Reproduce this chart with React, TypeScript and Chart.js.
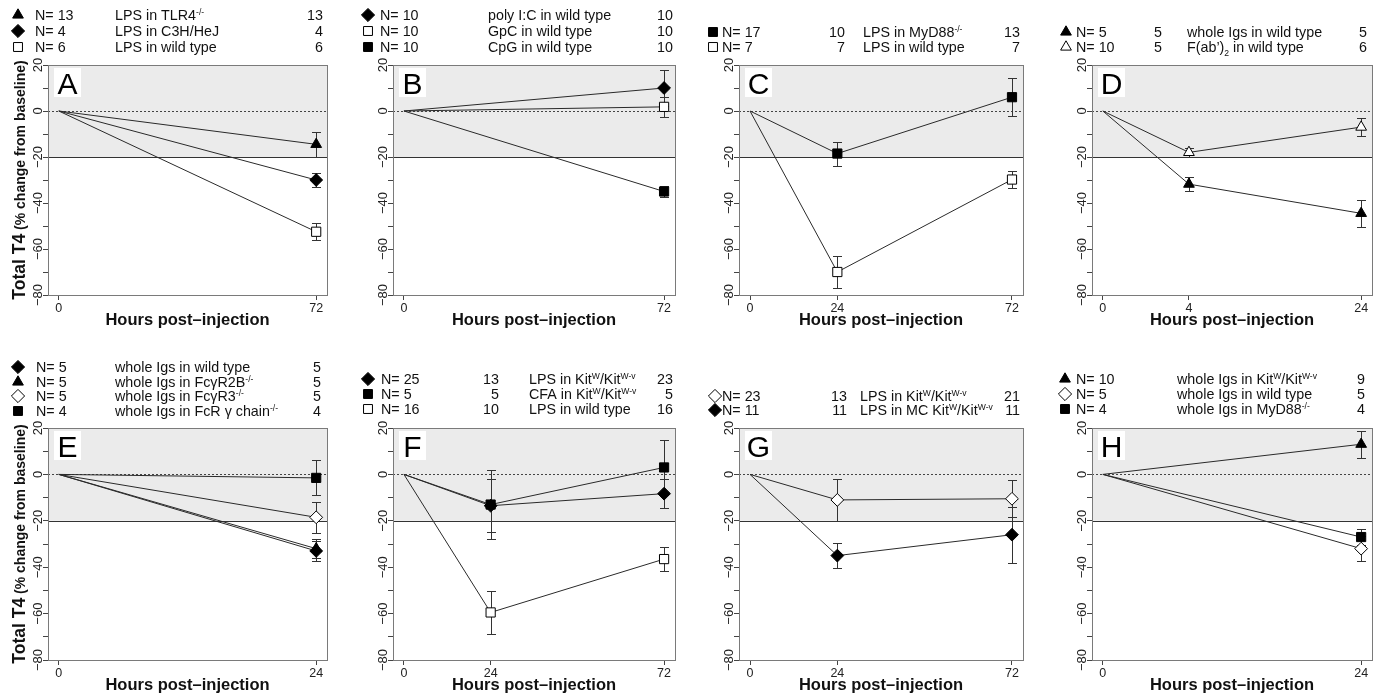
import React, { useEffect, useRef } from 'react';
import { Chart, registerables } from 'chart.js';

Chart.register(...registerables);

// ---------------- data ----------------
// Panel A
const A_hours = [0, 72];
const A_tlr4 = [0, -14.5];
const A_tlr4_err = [0, 5.3];
const A_c3h = [0, -30];
const A_c3h_err = [0, 3.2];
const A_wt = [0, -52.5];
const A_wt_err = [0, 3.8];

// Panel B
const B_hours = [0, 72];
const B_polyIC = [0, 10];
const B_polyIC_err = [0, 8];
const B_gpc = [0, 1.8];
const B_gpc_err = [0, 4.3];
const B_cpg = [0, -35];
const B_cpg_err = [0, 2.2];

// Panel C
const C_hours = [0, 24, 72];
const C_myd88 = [0, -18.5, 6];
const C_myd88_err = [0, 5.2, 8.2];
const C_wt = [0, -70, -29.8];
const C_wt_err = [0, 6.8, 3.8];

// Panel D (axis drawn with 0, 4, 24 placed like 0, 24, 72)
const D_hourLabels = ['0', '4', '24'];
const D_axisPos = [0, 24, 72];
const D_whole = [0, -31.8, -44.5];
const D_whole_err = [0, 3, 6];
const D_fab = [0, -18, -7];
const D_fab_err = [0, 1.8, 4];

// Panel E
const E_hours = [0, 24];
const E_wt = [0, -33];
const E_wt_err = [0, 4.5];
const E_r2b = [0, -32];
const E_r2b_err = [0, 4];
const E_r3 = [0, -18.5];
const E_r3_err = [0, 6.7];
const E_gamma = [0, -1.5];
const E_gamma_err = [0, 7.5];

// Panel F
const F_hours = [0, 24, 72];
const F_lpsKit = [0, -13.5, -8.3];
const F_lpsKit_err = [0, 11.5, 6.3];
const F_cfaKit = [0, -13, 3];
const F_cfaKit_err = [0, 15, 12];
const F_wt = [0, -59.5, -36.5];
const F_wt_err = [0, 9.3, 5.2];

// Panel G
const G_hours = [0, 24, 72];
const G_kit = [0, -11, -10.5];
const G_kit_err = [0, 9, 8];
const G_mcKit = [0, -35, -26];
const G_mcKit_err = [0, 5.5, 12];

// Panel H
const H_hours = [0, 24];
const H_kit = [0, 13];
const H_kit_err = [0, 5.8];
const H_wt = [0, -32];
const H_wt_err = [0, 5.5];
const H_myd88 = [0, -27];
const H_myd88_err = [0, 3.3];

const Y_TICKS = [-80, -70, -60, -50, -40, -30, -20, -10, 0, 10, 20];
const Y_LABELED = [-80, -60, -40, -20, 0, 20];

// ---------------- types & config ----------------
type Style = 'triangle' | 'rectRot' | 'rect';
type Series = { y: number[]; err: number[]; style: Style; fill: boolean; r: number };
type LegendRow = { style: Style; fill: boolean; n: string; mid?: string; desc: string; right: string };
type Legend = {
  rows: LegendRow[];
  baselines: number[];
  markerX: number;
  nX: number;
  midX?: number;
  descX: number;
  rightX: number;
};
type Panel = {
  letter: string;
  cell: { x: number; y: number; w: number; h: number };
  plot: { l: number; r: number; t: number; b: number };
  xPos: number[];
  xLabels: string[];
  series: Series[];
  legend: Legend;
  yTitle: boolean;
};

const FONT = '"Liberation Sans", Arial, Helvetica, sans-serif';
const TEXT = '#111';
const LEG_SIZE = 14.3;

const ROW1 = { y: 0, h: 340, t: 65, b: 295 };
const ROW2 = { y: 340, h: 354, t: 428, b: 660 };
const COLS = [
  { x: 0, w: 345, l: 48, r: 327 },
  { x: 345, w: 345, l: 393, r: 675 },
  { x: 690, w: 345, l: 739, r: 1023 },
  { x: 1035, w: 346, l: 1092, r: 1372 },
];

function geo(col: number, row: typeof ROW1) {
  const c = COLS[col];
  return {
    cell: { x: c.x, y: row.y, w: c.w, h: row.h },
    plot: { l: c.l, r: c.r, t: row.t, b: row.b },
  };
}

const TRI = 6.2;
const DIA = 6.4;
const SQ = 6.5;

const panels: Panel[] = [
  {
    letter: 'A',
    ...geo(0, ROW1),
    xPos: A_hours,
    xLabels: A_hours.map(String),
    yTitle: true,
    series: [
      { y: A_tlr4, err: A_tlr4_err, style: 'triangle', fill: true, r: TRI },
      { y: A_c3h, err: A_c3h_err, style: 'rectRot', fill: true, r: DIA },
      { y: A_wt, err: A_wt_err, style: 'rect', fill: false, r: SQ },
    ],
    legend: {
      baselines: [20, 36, 52],
      markerX: 18, nX: 35, descX: 115, rightX: 323,
      rows: [
        { style: 'triangle', fill: true, n: 'N= 13', desc: 'LPS in TLR4^{-/-}', right: '13' },
        { style: 'rectRot', fill: true, n: 'N= 4', desc: 'LPS in C3H/HeJ', right: '4' },
        { style: 'rect', fill: false, n: 'N= 6', desc: 'LPS in wild type', right: '6' },
      ],
    },
  },
  {
    letter: 'B',
    ...geo(1, ROW1),
    xPos: B_hours,
    xLabels: B_hours.map(String),
    yTitle: false,
    series: [
      { y: B_polyIC, err: B_polyIC_err, style: 'rectRot', fill: true, r: DIA },
      { y: B_gpc, err: B_gpc_err, style: 'rect', fill: false, r: SQ },
      { y: B_cpg, err: B_cpg_err, style: 'rect', fill: true, r: SQ },
    ],
    legend: {
      baselines: [20, 36, 52],
      markerX: 23, nX: 35, descX: 143, rightX: 328,
      rows: [
        { style: 'rectRot', fill: true, n: 'N= 10', desc: 'poly I:C in wild type', right: '10' },
        { style: 'rect', fill: false, n: 'N= 10', desc: 'GpC in wild type', right: '10' },
        { style: 'rect', fill: true, n: 'N= 10', desc: 'CpG in wild type', right: '10' },
      ],
    },
  },
  {
    letter: 'C',
    ...geo(2, ROW1),
    xPos: C_hours,
    xLabels: C_hours.map(String),
    yTitle: false,
    series: [
      { y: C_myd88, err: C_myd88_err, style: 'rect', fill: true, r: SQ },
      { y: C_wt, err: C_wt_err, style: 'rect', fill: false, r: SQ },
    ],
    legend: {
      baselines: [37, 52],
      markerX: 23, nX: 32, midX: 155, descX: 173, rightX: 330,
      rows: [
        { style: 'rect', fill: true, n: 'N= 17', mid: '10', desc: 'LPS in MyD88^{-/-}', right: '13' },
        { style: 'rect', fill: false, n: 'N= 7', mid: '7', desc: 'LPS in wild type', right: '7' },
      ],
    },
  },
  {
    letter: 'D',
    ...geo(3, ROW1),
    xPos: D_axisPos,
    xLabels: D_hourLabels,
    yTitle: false,
    series: [
      { y: D_whole, err: D_whole_err, style: 'triangle', fill: true, r: TRI },
      { y: D_fab, err: D_fab_err, style: 'triangle', fill: false, r: TRI },
    ],
    legend: {
      baselines: [37, 52],
      markerX: 31, nX: 41, midX: 127, descX: 152, rightX: 332,
      rows: [
        { style: 'triangle', fill: true, n: 'N= 5', mid: '5', desc: 'whole Igs in wild type', right: '5' },
        { style: 'triangle', fill: false, n: 'N= 10', mid: '5', desc: 'F(ab\u2019)_{2} in wild type', right: '6' },
      ],
    },
  },
  {
    letter: 'E',
    ...geo(0, ROW2),
    xPos: E_hours,
    xLabels: E_hours.map(String),
    yTitle: true,
    series: [
      { y: E_wt, err: E_wt_err, style: 'rectRot', fill: true, r: DIA },
      { y: E_r2b, err: E_r2b_err, style: 'triangle', fill: true, r: TRI },
      { y: E_r3, err: E_r3_err, style: 'rectRot', fill: false, r: DIA },
      { y: E_gamma, err: E_gamma_err, style: 'rect', fill: true, r: SQ },
    ],
    legend: {
      baselines: [32, 47, 61, 76],
      markerX: 18, nX: 36, descX: 115, rightX: 321,
      rows: [
        { style: 'rectRot', fill: true, n: 'N= 5', desc: 'whole Igs in wild type', right: '5' },
        { style: 'triangle', fill: true, n: 'N= 5', desc: 'whole Igs in Fc\u03b3R2B^{-/-}', right: '5' },
        { style: 'rectRot', fill: false, n: 'N= 5', desc: 'whole Igs in Fc\u03b3R3^{-/-}', right: '5' },
        { style: 'rect', fill: true, n: 'N= 4', desc: 'whole Igs in FcR \u03b3 chain^{-/-}', right: '4' },
      ],
    },
  },
  {
    letter: 'F',
    ...geo(1, ROW2),
    xPos: F_hours,
    xLabels: F_hours.map(String),
    yTitle: false,
    series: [
      { y: F_lpsKit, err: F_lpsKit_err, style: 'rectRot', fill: true, r: DIA },
      { y: F_cfaKit, err: F_cfaKit_err, style: 'rect', fill: true, r: SQ },
      { y: F_wt, err: F_wt_err, style: 'rect', fill: false, r: SQ },
    ],
    legend: {
      baselines: [44, 59, 74],
      markerX: 23, nX: 36, midX: 154, descX: 184, rightX: 328,
      rows: [
        { style: 'rectRot', fill: true, n: 'N= 25', mid: '13', desc: 'LPS in Kit^{W}/Kit^{W-v}', right: '23' },
        { style: 'rect', fill: true, n: 'N= 5', mid: '5', desc: 'CFA in Kit^{W}/Kit^{W-v}', right: '5' },
        { style: 'rect', fill: false, n: 'N= 16', mid: '10', desc: 'LPS in wild type', right: '16' },
      ],
    },
  },
  {
    letter: 'G',
    ...geo(2, ROW2),
    xPos: G_hours,
    xLabels: G_hours.map(String),
    yTitle: false,
    series: [
      { y: G_kit, err: G_kit_err, style: 'rectRot', fill: false, r: DIA },
      { y: G_mcKit, err: G_mcKit_err, style: 'rectRot', fill: true, r: DIA },
    ],
    legend: {
      baselines: [61, 75],
      markerX: 25, nX: 32, midX: 157, descX: 170, rightX: 330,
      rows: [
        { style: 'rectRot', fill: false, n: 'N= 23', mid: '13', desc: 'LPS in Kit^{W}/Kit^{W-v}', right: '21' },
        { style: 'rectRot', fill: true, n: 'N= 11', mid: '11', desc: 'LPS in MC Kit^{W}/Kit^{W-v}', right: '11' },
      ],
    },
  },
  {
    letter: 'H',
    ...geo(3, ROW2),
    xPos: H_hours,
    xLabels: H_hours.map(String),
    yTitle: false,
    series: [
      { y: H_kit, err: H_kit_err, style: 'triangle', fill: true, r: TRI },
      { y: H_wt, err: H_wt_err, style: 'rectRot', fill: false, r: DIA },
      { y: H_myd88, err: H_myd88_err, style: 'rect', fill: true, r: SQ },
    ],
    legend: {
      baselines: [44, 59, 74],
      markerX: 30, nX: 41, descX: 142, rightX: 330,
      rows: [
        { style: 'triangle', fill: true, n: 'N= 10', desc: 'whole Igs in Kit^{W}/Kit^{W-v}', right: '9' },
        { style: 'rectRot', fill: false, n: 'N= 5', desc: 'whole Igs in wild type', right: '5' },
        { style: 'rect', fill: true, n: 'N= 4', desc: 'whole Igs in MyD88^{-/-}', right: '4' },
      ],
    },
  },
];

// ---------------- drawing helpers ----------------
function drawMarker(ctx: CanvasRenderingContext2D, style: Style, fill: boolean, x: number, y: number, r: number) {
  ctx.beginPath();
  if (style === 'triangle') {
    for (let i = 0; i < 3; i++) {
      const a = (i * 2 * Math.PI) / 3;
      const px = x + Math.sin(a) * r;
      const py = y - Math.cos(a) * r;
      if (i === 0) ctx.moveTo(px, py);
      else ctx.lineTo(px, py);
    }
    ctx.closePath();
  } else if (style === 'rectRot') {
    ctx.moveTo(x - r, y);
    ctx.lineTo(x, y - r);
    ctx.lineTo(x + r, y);
    ctx.lineTo(x, y + r);
    ctx.closePath();
  } else {
    const s = r * Math.SQRT1_2;
    ctx.rect(x - s, y - s, 2 * s, 2 * s);
  }
  ctx.fillStyle = fill ? '#000' : '#fff';
  ctx.fill();
  ctx.lineWidth = 1;
  ctx.strokeStyle = '#000';
  ctx.stroke();
}

type Part = { kind: 'n' | 'sup' | 'sub'; text: string };
function parseRich(text: string): Part[] {
  const out: Part[] = [];
  const re = /(\^\{[^}]*\}|_\{[^}]*\})/g;
  let last = 0;
  let m: RegExpExecArray | null;
  while ((m = re.exec(text))) {
    if (m.index > last) out.push({ kind: 'n', text: text.slice(last, m.index) });
    const tok = m[0];
    out.push({ kind: tok[0] === '^' ? 'sup' : 'sub', text: tok.slice(2, -1) });
    last = m.index + tok.length;
  }
  if (last < text.length) out.push({ kind: 'n', text: text.slice(last) });
  return out;
}

function drawRich(ctx: CanvasRenderingContext2D, text: string, x: number, y: number, size: number, align: 'left' | 'right') {
  const parts = parseRich(text);
  const fontFor = (p: Part) => (p.kind === 'n' ? `${size}px ${FONT}` : `${size * 0.6}px ${FONT}`);
  let total = 0;
  const widths = parts.map((p) => {
    ctx.font = fontFor(p);
    const w = ctx.measureText(p.text).width;
    total += w;
    return w;
  });
  let cx = align === 'left' ? x : x - total;
  ctx.textAlign = 'left';
  ctx.textBaseline = 'alphabetic';
  ctx.fillStyle = TEXT;
  parts.forEach((p, i) => {
    ctx.font = fontFor(p);
    const dy = p.kind === 'sup' ? -size * 0.38 : p.kind === 'sub' ? size * 0.25 : 0;
    ctx.fillText(p.text, cx, y + dy);
    cx += widths[i];
  });
}

function makeDecor(p: Panel) {
  return {
    id: 'decor' + p.letter,
    beforeDatasetsDraw(chart: any) {
      const ctx: CanvasRenderingContext2D = chart.ctx;
      const ca = chart.chartArea;
      const xs = chart.scales.x;
      const ys = chart.scales.y;
      ctx.save();
      // grey band -20..20
      const yTop = ys.getPixelForValue(20);
      const yM20 = ys.getPixelForValue(-20);
      const y0 = ys.getPixelForValue(0);
      ctx.fillStyle = '#ebebeb';
      ctx.fillRect(ca.left, yTop, ca.right - ca.left, yM20 - yTop);
      // solid line at -20
      ctx.strokeStyle = '#333';
      ctx.lineWidth = 1;
      ctx.beginPath();
      ctx.moveTo(ca.left, Math.round(yM20) + 0.5);
      ctx.lineTo(ca.right, Math.round(yM20) + 0.5);
      ctx.stroke();
      // dotted line at 0
      ctx.setLineDash([2, 2]);
      ctx.strokeStyle = '#444';
      ctx.beginPath();
      ctx.moveTo(ca.left, Math.round(y0) + 0.5);
      ctx.lineTo(ca.right, Math.round(y0) + 0.5);
      ctx.stroke();
      ctx.setLineDash([]);
      // box
      ctx.strokeStyle = '#7a7a7a';
      ctx.strokeRect(Math.round(ca.left) + 0.5, Math.round(ca.top) + 0.5, Math.round(ca.right - ca.left), Math.round(ca.bottom - ca.top));
      // panel letter
      ctx.fillStyle = '#fff';
      ctx.fillRect(ca.left + 6, ca.top + 3, 27, 29);
      ctx.fillStyle = '#000';
      ctx.font = `30px ${FONT}`;
      ctx.textAlign = 'center';
      ctx.textBaseline = 'alphabetic';
      ctx.fillText(p.letter, ca.left + 19.5, ca.top + 28.5);
      // error bars
      ctx.strokeStyle = '#333';
      ctx.lineWidth = 1;
      p.series.forEach((s) => {
        s.y.forEach((v, i) => {
          const e = s.err[i];
          if (!e) return;
          const px = Math.round(xs.getPixelForValue(p.xPos[i])) + 0.5;
          const pt = Math.round(ys.getPixelForValue(v + e)) + 0.5;
          const pb = Math.round(ys.getPixelForValue(v - e)) + 0.5;
          ctx.beginPath();
          ctx.moveTo(px, pt);
          ctx.lineTo(px, pb);
          ctx.moveTo(px - 4.5, pt);
          ctx.lineTo(px + 4.5, pt);
          ctx.moveTo(px - 4.5, pb);
          ctx.lineTo(px + 4.5, pb);
          ctx.stroke();
        });
      });
      ctx.restore();
    },
    afterDraw(chart: any) {
      const ctx: CanvasRenderingContext2D = chart.ctx;
      const ca = chart.chartArea;
      const ys = chart.scales.y;
      ctx.save();
      // y tick labels (rotated like the original)
      ctx.fillStyle = '#222';
      ctx.font = `13px ${FONT}`;
      ctx.textAlign = 'center';
      ctx.textBaseline = 'alphabetic';
      Y_LABELED.forEach((v) => {
        const py = ys.getPixelForValue(v);
        ctx.save();
        ctx.translate(ca.left - 6, py);
        ctx.rotate(-Math.PI / 2);
        ctx.fillText(v < 0 ? '\u2212' + Math.abs(v) : String(v), 0, 0);
        ctx.restore();
      });
      // x title
      ctx.fillStyle = TEXT;
      ctx.font = `bold 16.5px ${FONT}`;
      ctx.textAlign = 'center';
      ctx.fillText('Hours post\u2013injection', (ca.left + ca.right) / 2, ca.bottom + 30);
      // y title
      if (p.yTitle) {
        const t1 = 'Total T4';
        const t2 = ' (% change from baseline)';
        const f1 = `bold 17.5px ${FONT}`;
        const f2 = `bold 14px ${FONT}`;
        ctx.font = f1;
        const w1 = ctx.measureText(t1).width;
        ctx.font = f2;
        const w2 = ctx.measureText(t2).width;
        ctx.save();
        ctx.translate(25, (ca.top + ca.bottom) / 2);
        ctx.rotate(-Math.PI / 2);
        ctx.textAlign = 'left';
        ctx.font = f1;
        ctx.fillText(t1, -(w1 + w2) / 2, 0);
        ctx.font = f2;
        ctx.fillText(t2, -(w1 + w2) / 2 + w1, 0);
        ctx.restore();
      }
      // legend block
      const lg = p.legend;
      lg.rows.forEach((row, i) => {
        const b = lg.baselines[i];
        const mr = row.style === 'rectRot' ? 6.6 : row.style === 'triangle' ? 6.2 : 6.3;
        drawMarker(ctx, row.style, row.fill, lg.markerX, b - 5, mr);
        drawRich(ctx, row.n, lg.nX, b, LEG_SIZE, 'left');
        if (row.mid && lg.midX !== undefined) drawRich(ctx, row.mid, lg.midX, b, LEG_SIZE, 'right');
        drawRich(ctx, row.desc, lg.descX, b, LEG_SIZE, 'left');
        drawRich(ctx, row.right, lg.rightX, b, LEG_SIZE, 'right');
      });
      ctx.restore();
    },
  };
}

const YW = 20;
const XH = 30;

function buildConfig(p: Panel): any {
  const first = p.xPos[0];
  const last = p.xPos[p.xPos.length - 1];
  const span = last - first;
  const ext = 0.042 * span;
  const padLeft = p.plot.l - p.cell.x - YW;
  const padRight = p.cell.x + p.cell.w - p.plot.r;
  const padTop = p.plot.t - p.cell.y;
  const padBottom = p.cell.y + p.cell.h - p.plot.b - XH;
  const gridOpts = { drawOnChartArea: false, drawTicks: true, tickLength: 5, color: '#444', lineWidth: 1 };
  return {
    type: 'scatter',
    data: {
      datasets: p.series.map((s) => ({
        data: p.xPos.map((x, i) => ({ x, y: s.y[i] })),
        showLine: true,
        borderColor: '#2a2a2a',
        borderWidth: 1,
        pointStyle: s.style,
        pointRadius: p.xPos.map((_, i) => (i === 0 ? 0 : s.r)),
        pointHoverRadius: p.xPos.map((_, i) => (i === 0 ? 0 : s.r)),
        pointBackgroundColor: s.fill ? '#000' : '#fff',
        pointBorderColor: '#000',
        pointBorderWidth: 1,
      })),
    },
    options: {
      animation: false,
      responsive: false,
      devicePixelRatio: 1,
      events: [],
      layout: { padding: { left: padLeft, right: padRight, top: padTop, bottom: padBottom } },
      plugins: { legend: { display: false }, tooltip: { enabled: false } },
      scales: {
        x: {
          type: 'linear',
          min: first - ext,
          max: last + ext,
          afterBuildTicks: (sc: any) => {
            sc.ticks = p.xPos.map((v) => ({ value: v }));
          },
          afterFit: (sc: any) => {
            sc.height = XH;
          },
          ticks: {
            callback: (_v: any, i: number) => p.xLabels[i],
            font: { family: FONT, size: 12.5 },
            color: '#222',
            padding: 1,
            maxRotation: 0,
            minRotation: 0,
            autoSkip: false,
          },
          grid: gridOpts,
          border: { display: false },
        },
        y: {
          type: 'linear',
          min: -80,
          max: 20,
          afterBuildTicks: (sc: any) => {
            sc.ticks = Y_TICKS.map((v) => ({ value: v }));
          },
          afterFit: (sc: any) => {
            sc.width = YW;
          },
          ticks: { display: false },
          grid: gridOpts,
          border: { display: false },
        },
      },
    },
    plugins: [makeDecor(p)],
  };
}

function PanelChart({ p }: { p: Panel }) {
  const ref = useRef<HTMLCanvasElement | null>(null);
  useEffect(() => {
    if (!ref.current) return;
    const chart = new Chart(ref.current, buildConfig(p));
    return () => chart.destroy();
  }, [p]);
  return (
    <canvas
      ref={ref}
      width={p.cell.w}
      height={p.cell.h}
      style={{ position: 'absolute', left: p.cell.x, top: p.cell.y, width: p.cell.w, height: p.cell.h }}
    />
  );
}

export default function App() {
  return (
    <div style={{ position: 'absolute', left: 0, top: 0, width: 1381, height: 694, background: '#fff', overflow: 'hidden' }}>
      {panels.map((p) => (
        <PanelChart key={p.letter} p={p} />
      ))}
    </div>
  );
}
